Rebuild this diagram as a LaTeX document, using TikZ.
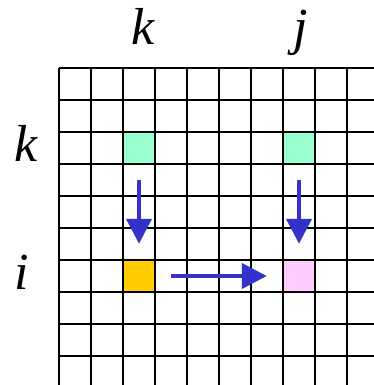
\documentclass[tikz,border=0pt]{standalone}
\usepackage{fontspec}
\setmainfont{Liberation Serif}
\usetikzlibrary{arrows.meta}

\definecolor{pivotgreen}{HTML}{99FFCC}
\definecolor{pivotyellow}{HTML}{FFCC00}
\definecolor{pivotpink}{HTML}{FFCCFF}
\definecolor{flowblue}{HTML}{3333CC}

\begin{document}
\begin{tikzpicture}[
			x=1pt, y=-1pt,
			>={Triangle[width=25pt,length=25pt]},
			cell/.style={
				draw=none,
				inner sep=0pt,
				minimum size=32pt
			},
			idx/.style={
				inner sep=0pt,
				anchor=base,
				font=\fontsize{52}{52}\selectfont\itshape
			},
			gridline/.style={line width=2.5pt},
			flow/.style={
				->,
				line width=4pt,
				flowblue,
				shorten <=16pt,
				shorten >=16pt
			}
			]
			
			\useasboundingbox (0,0) rectangle (374,385);
			
			%%%%%%%%%%%%%%%%%%%%%%%%%%%%%%%%%%%%%%%%%%%%%%%%%%%%%%
			% Cells
			%%%%%%%%%%%%%%%%%%%%%%%%%%%%%%%%%%%%%%%%%%%%%%%%%%%%%%
			
			\node (kk) [cell, fill=pivotgreen] at (139,148) {};
			
			\node (kj) [cell, fill=pivotgreen] at (299,148) {};
			
			\node (ik) [cell, fill=pivotyellow] at (139,276) {};
			
			\node (ij) [cell, fill=pivotpink] at (299,276) {};
			
			%%%%%%%%%%%%%%%%%%%%%%%%%%%%%%%%%%%%%%%%%%%%%%%%%%%%%%
			% Grid
			%%%%%%%%%%%%%%%%%%%%%%%%%%%%%%%%%%%%%%%%%%%%%%%%%%%%%%
			
			\foreach \c in {0,...,9}
			\draw[gridline] (59+32*\c,68) -- (59+32*\c,385);
			
			\foreach \r in {0,...,9}
			\draw[gridline] (59,68+32*\r) -- (374,68+32*\r);
			
			%%%%%%%%%%%%%%%%%%%%%%%%%%%%%%%%%%%%%%%%%%%%%%%%%%%%%%
			% Indices
			%%%%%%%%%%%%%%%%%%%%%%%%%%%%%%%%%%%%%%%%%%%%%%%%%%%%%%
			
			\node (colk) [idx] at (143,45) {k};
			
			\node (colj) [idx] at (301,45) {j};
			
			\node (rowk) [idx] at (26,161) {k};
			
			\node (rowi) [idx] at (22,289) {i};
			
			%%%%%%%%%%%%%%%%%%%%%%%%%%%%%%%%%%%%%%%%%%%%%%%%%%%%%%
			% Flow
			%%%%%%%%%%%%%%%%%%%%%%%%%%%%%%%%%%%%%%%%%%%%%%%%%%%%%%
			
			\draw[flow]
			(kk.south) -- (ik.north);
			
			\draw[flow]
			(kj.south) -- (ij.north);
			
			\draw[flow]
			(ik.east) -- (ij.west);
			
			%%%%%%%%%%%%%%%%%%%%%%%%%%%%%%%%%%%%%%%%%%%%%%%%%%%%%%
			
		\end{tikzpicture}
\end{document}
